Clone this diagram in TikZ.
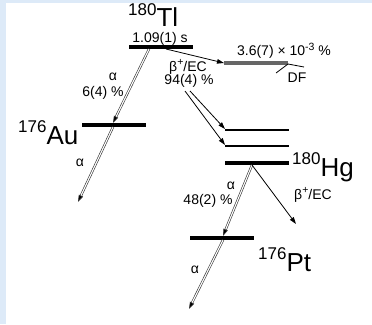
\documentclass[tikz,border=0pt]{standalone}
\usepackage{fontspec}
\setmainfont{Liberation Sans}
\usetikzlibrary{arrows.meta}
\definecolor{panel}{HTML}{DDEAF8}
\newcommand{\nucl}[2]{\raisebox{12pt}{\fontsize{17}{17}\selectfont #1}#2}
\newcommand{\up}[1]{\raisebox{5.5pt}{\fontsize{10.5}{10.5}\selectfont #1}}

\begin{document}
\begin{tikzpicture}[x=1pt,y=-1pt]
  \tikzset{level/.style={fill=black,inner sep=0pt,minimum height=#1,minimum width=64pt},
    level/.default=4pt,
    alphadecay/.style={draw=black!80,line width=0.6pt,double=white,double distance=1.1pt,-{Triangle[length=7pt,width=4.5pt,fill=black]}},
    betadecay/.style={draw=black,line width=0.8pt,-{Triangle[length=7pt,width=4.5pt]}},
    small/.style={font=\fontsize{14}{16}\selectfont,inner sep=0pt},
    nuc/.style={font=\fontsize{26}{28}\selectfont,inner sep=0pt,anchor=base west}}
  \useasboundingbox (0,0) rectangle (372,324);
  \fill[panel] (0,0) rectangle (6,324);
  \fill[panel] (0,0) rectangle (372,3);

  \node[level] (tl) at (160.5,47) {};
  \node[level] (au) at (114,125) {};
  \node[level=2pt] (hga) at (257,130) {};
  \node[level=2pt] (hgb) at (257,146) {};
  \node[level=4.5pt] (hg) at (257,163) {};
  \node[level] (pt) at (221.5,238) {};
  \node[level=3.5pt,fill=black!60] (df) at (256,63) {};

  \node[nuc] (tlname) at (128,27) {\nucl{180}{Tl}};
  \node[nuc] (auname) at (18,144) {\nucl{176}{Au}};
  \node[nuc] (hgname) at (292,176) {\nucl{180}{Hg}};
  \node[nuc] (ptname) at (258,271) {\nucl{176}{Pt}};

  \coordinate (tlA) at (149,49);
  \coordinate (auA) at (113,123);
  \coordinate (auB) at (113,127);
  \coordinate (auEnd) at (78,202);
  \coordinate (tlB) at (166,49);
  \coordinate (dfIn) at (224,63);
  \coordinate (b1) at (190,91);
  \coordinate (b2) at (185,91);
  \coordinate (hgaIn) at (225,129);
  \coordinate (hgbIn) at (225,145);
  \coordinate (hgA) at (252,165);
  \coordinate (ptA) at (223,236);
  \coordinate (ptB) at (223,240);
  \coordinate (ptEnd) at (189,309);
  \coordinate (hgEnd) at (296,224);
  \coordinate (fis) at (288,64);
  \coordinate (fragR) at (304,67);
  \coordinate (fragL) at (276,73);

  \draw[alphadecay] (tlA) -- (auA);
  \draw[alphadecay] (auB) -- (auEnd);
  \draw[betadecay] (tlB) -- (dfIn);
  \draw[betadecay] (b1) -- (hgaIn);
  \draw[betadecay] (b2) -- (hgbIn);
  \draw[alphadecay] (hgA) -- (ptA);
  \draw[alphadecay] (ptB) -- (ptEnd);
  \draw[betadecay] (hgA) -- (hgEnd);
  \draw[line width=0.8pt] (fis) -- (fragR);
  \draw[line width=0.8pt] (fis) -- (fragL);

  \node[small] (tlhalf) at (160,39) {1.09(1) s};
  \node[small] (tlalpha) at (113,77) {α};
  \node[small] (tlalphab) at (103,93) {6(4) \%};
  \node[small] (tlbeta) at (188,67) {β\up{+}/EC};
  \node[small] (tlbetab) at (189,81) {94(4) \%};
  \node[small] (dfbr) at (284,51) {3.6(7) × 10\up{-3} \%};
  \node[small] (dflabel) at (297,78) {DF};
  \node[small] (aualpha) at (80,163) {α};
  \node[small] (hgalpha) at (231,186) {α};
  \node[small] (hgalphab) at (208,201) {48(2) \%};
  \node[small] (hgbeta) at (313,195) {β\up{+}/EC};
  \node[small] (ptalpha) at (195,270) {α};
\end{tikzpicture}
\end{document}
